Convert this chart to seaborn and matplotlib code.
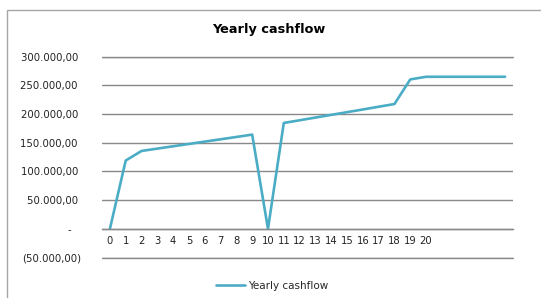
import matplotlib
matplotlib.use("Agg")
import matplotlib.pyplot as plt
import pandas as pd
import seaborn as sns
from matplotlib.patches import Rectangle
from matplotlib.ticker import FuncFormatter

# Values (Excel-style category axis, 26 slots)
YEARS = list(range(26))
CASHFLOW = [
    0, 119000, 135700, 139800, 143900, 147900, 152000, 156000, 160100, 164200,
    0, 184500, 189200, 193900, 198600, 203300, 208000, 212800, 217500,
    260400, 265000, 265000, 265000, 265000, 265000, 265000,
]
X_LABELS = [str(i) for i in range(21)] + [""] * 5
Y_TICKS = [-50000, 0, 50000, 100000, 150000, 200000, 250000, 300000]

LINE_COLOR = "#4BACC6"
GRID_COLOR = "#898989"


def accounting(v, _pos=None):
    if abs(v) < 1e-6:
        return "-   "
    s = f"{abs(v):,.2f}".replace(",", "X").replace(".", ",").replace("X", ".")
    return f"({s})" if v < 0 else s + " "


def main() -> None:
    sns.set_theme(style="white")
    plt.rcParams["font.family"] = ["DejaVu Sans"]

    df = pd.DataFrame({"Year": YEARS, "Yearly cashflow": CASHFLOW})

    fig = plt.figure(figsize=(5.41, 2.98), dpi=100)
    ax = fig.add_axes([102 / 541, 1 - 257.5 / 298, 411 / 541, (257.5 - 56.7) / 298])

    sns.lineplot(data=df, x="Year", y="Yearly cashflow", ax=ax, color=LINE_COLOR,
                 linewidth=1.9, label="Yearly cashflow")

    ax.set_xlim(-0.5, len(YEARS) - 0.5)
    ax.set_ylim(Y_TICKS[0], Y_TICKS[-1])
    ax.set_yticks(Y_TICKS)
    ax.yaxis.set_major_formatter(FuncFormatter(accounting))
    ax.set_xticks(YEARS)
    ax.set_xticklabels(X_LABELS)
    ax.set_xlabel("")
    ax.set_ylabel("")

    ax.grid(axis="y", color=GRID_COLOR, linewidth=1.0)
    ax.axhline(Y_TICKS[0], color=GRID_COLOR, linewidth=1.0, clip_on=False, zorder=0)
    ax.axhline(Y_TICKS[-1], color=GRID_COLOR, linewidth=1.0, clip_on=False, zorder=0)
    ax.set_axisbelow(True)
    for side in ["left", "right", "top"]:
        ax.spines[side].set_visible(False)
    ax.spines["bottom"].set_position(("data", 0))
    ax.spines["bottom"].set_color(GRID_COLOR)
    ax.spines["bottom"].set_linewidth(1.0)

    ax.tick_params(axis="y", length=0, pad=15, labelsize=7.3, labelcolor="#222222")
    ax.tick_params(axis="x", length=0, pad=5, labelsize=7.2, labelcolor="#222222")

    fig.text(269 / 541, 1 - 30 / 298, "Yearly cashflow", ha="center", va="center",
             fontsize=9.3, fontweight="bold", color="black")

    ax.legend(loc="center", bbox_to_anchor=(272 / 541, 1 - 286 / 298),
              bbox_transform=fig.transFigure, frameon=False, fontsize=7.5,
              handlelength=2.8, handletextpad=0.25)

    fig.add_artist(Rectangle((7 / 541, -0.05), 1.1, 1 - 10 / 298 + 0.05,
                             transform=fig.transFigure, fill=False,
                             edgecolor="#a6a6a6", linewidth=1.0))

    fig.savefig("out.png", dpi=100)
    plt.close(fig)


if __name__ == "__main__":
    main()
